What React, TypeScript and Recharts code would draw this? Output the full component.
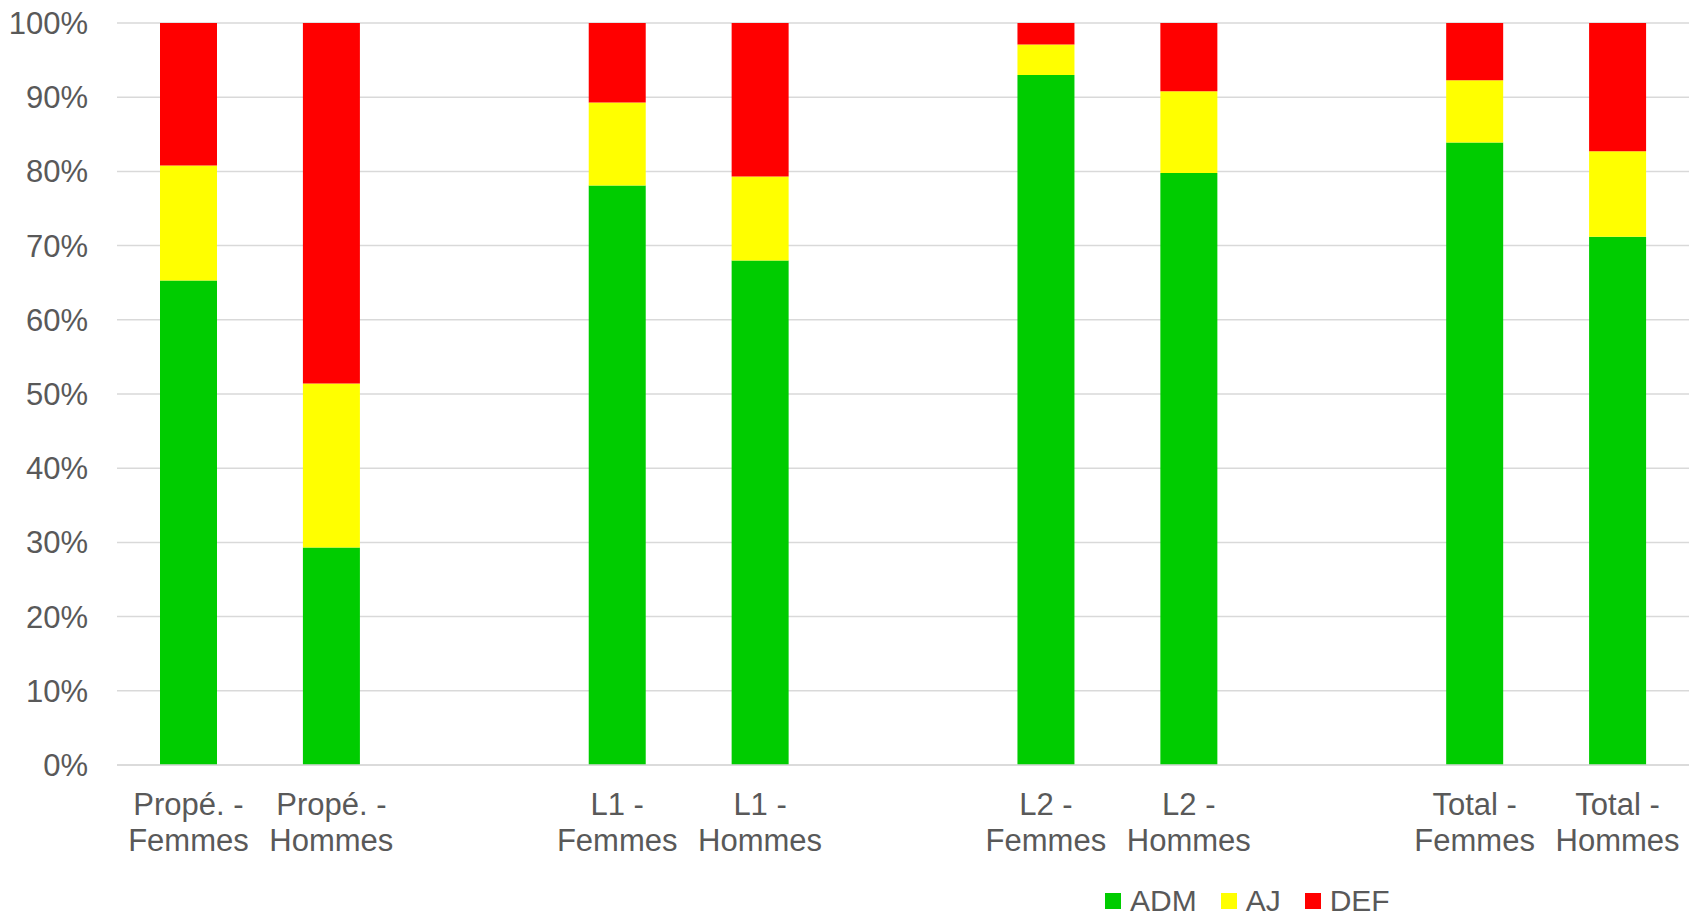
import { BarChart, Bar, XAxis, YAxis, CartesianGrid, Legend } from "recharts";

const categories = [
  "Propé. - Femmes",
  "Propé. - Hommes",
  "",
  "L1 - Femmes",
  "L1 - Hommes",
  "",
  "L2 - Femmes",
  "L2 - Hommes",
  "",
  "Total - Femmes",
  "Total - Hommes",
];

const adm = [65.3, 29.3, null, 78.1, 68.0, null, 93.0, 79.8, null, 83.9, 71.2];
const aj = [15.5, 22.1, null, 11.2, 11.3, null, 4.1, 11.0, null, 8.4, 11.5];
const def = [19.2, 48.6, null, 10.7, 20.7, null, 2.9, 9.2, null, 7.7, 17.3];

const yTicks = [0, 10, 20, 30, 40, 50, 60, 70, 80, 90, 100];

const series = [
  { key: "ADM", color: "#00CC00" },
  { key: "AJ", color: "#FFFF00" },
  { key: "DEF", color: "#FF0000" },
];

const data = categories.map((name, i) => ({
  id: `c${i}`,
  name,
  ADM: adm[i],
  AJ: aj[i],
  DEF: def[i],
}));

const FONT = "'Liberation Sans', Arial, sans-serif";
const TEXT = "#595959";

function XTick(props: any) {
  const { x, y, payload } = props;
  const label = data.find((d) => d.id === payload.value)?.name ?? "";
  if (!label) return null;
  const [first, second] = label.split(" - ");
  return (
    <text
      x={x}
      y={y}
      textAnchor="middle"
      fill={TEXT}
      fontSize={31}
      fontFamily={FONT}
    >
      <tspan x={x} dy={42}>
        {first + " -"}
      </tspan>
      <tspan x={x} dy={36}>
        {second}
      </tspan>
    </text>
  );
}

function YTick(props: any) {
  const { y, payload } = props;
  return (
    <text
      x={88}
      y={y}
      dy={11}
      textAnchor="end"
      fill={TEXT}
      fontSize={31}
      fontFamily={FONT}
    >
      {payload.value}%
    </text>
  );
}

function LegendContent() {
  return (
    <div style={{ display: "flex", alignItems: "center", fontFamily: FONT }}>
      {series.map((s, i) => (
        <div
          key={s.key}
          style={{
            display: "flex",
            alignItems: "center",
            marginLeft: i === 0 ? 0 : 24,
          }}
        >
          <span
            style={{
              display: "inline-block",
              width: 16,
              height: 16,
              background: s.color,
              marginRight: 9,
            }}
          />
          <span style={{ fontSize: 30, color: TEXT, lineHeight: "34px" }}>
            {s.key}
          </span>
        </div>
      ))}
    </div>
  );
}

export default function App() {
  return (
    <div
      style={{
        position: "absolute",
        left: 0,
        top: 0,
        width: 1698,
        height: 916,
        background: "#fff",
      }}
    >
      <BarChart
        width={1698}
        height={916}
        data={data}
        margin={{ top: 23, right: 9, left: 0, bottom: 91 }}
        barCategoryGap={0}
      >
        <CartesianGrid
          vertical={false}
          stroke="#D9D9D9"
          strokeWidth={1.5}
        />
        <XAxis
          dataKey="id"
          height={60}
          interval={0}
          axisLine={{ stroke: "#D9D9D9", strokeWidth: 1.5 }}
          tickLine={false}
          tick={<XTick />}
        />
        <YAxis
          width={117}
          domain={[0, 100]}
          ticks={yTicks}
          axisLine={false}
          tickLine={false}
          tick={<YTick />}
          allowDataOverflow
        />
        <Legend
          layout="horizontal"
          verticalAlign="middle"
          align="center"
          content={<LegendContent />}
          wrapperStyle={{ top: 884, left: 1105, width: "auto", height: "auto" }}
        />
        {series.map((s) => (
          <Bar
            key={s.key}
            dataKey={s.key}
            stackId="a"
            fill={s.color}
            barSize={57}
            isAnimationActive={false}
          />
        ))}
      </BarChart>
    </div>
  );
}
